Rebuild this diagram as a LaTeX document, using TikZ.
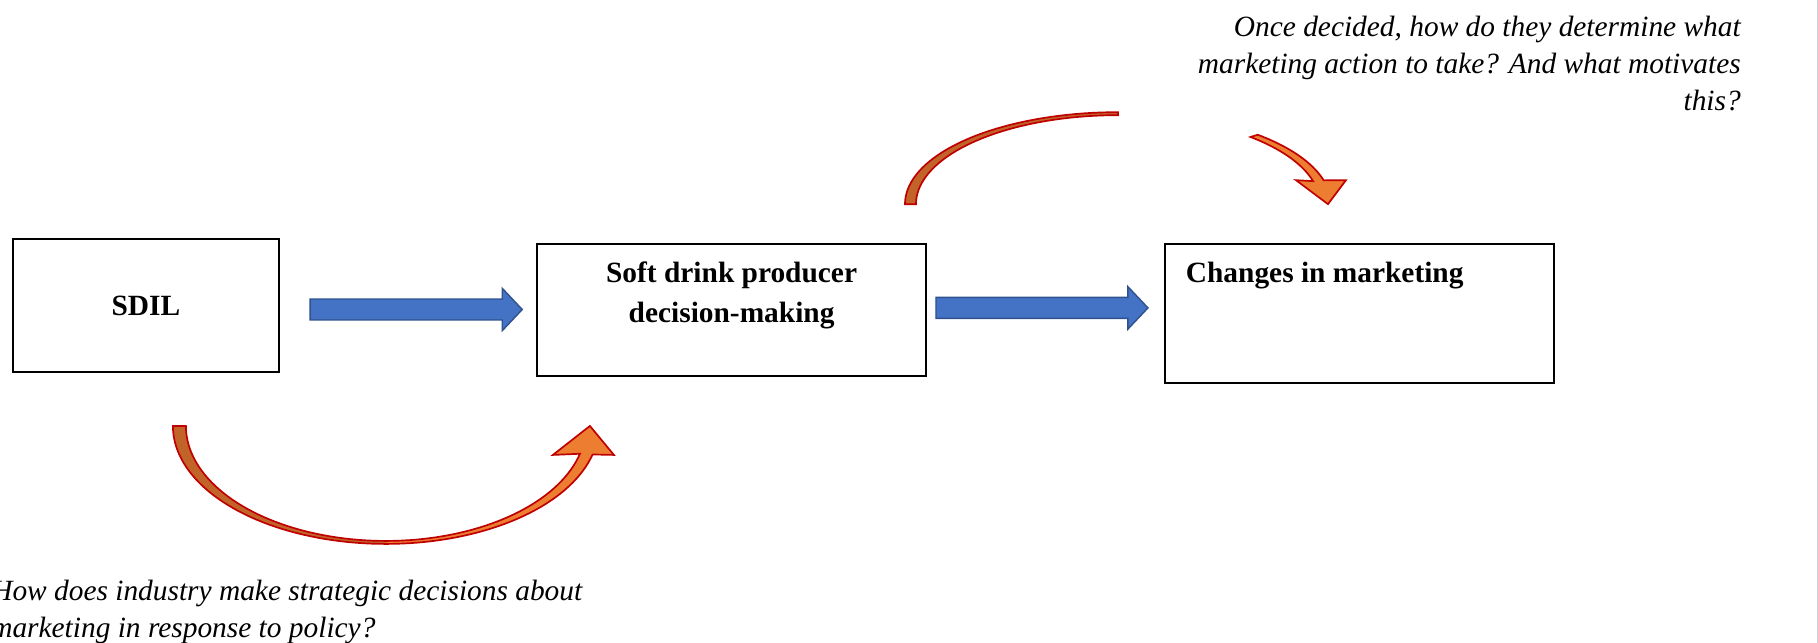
\documentclass[tikz,border=0pt]{standalone}
\usepackage{fontspec}
\setmainfont{Liberation Serif}
\usetikzlibrary{calc,positioning}
\definecolor{blueface}{HTML}{4472C4}
\definecolor{blueedge}{HTML}{2F528F}
\definecolor{orangeface}{HTML}{ED7D31}
\definecolor{orangeback}{HTML}{C2642A}
\definecolor{rededge}{HTML}{C00000}
\definecolor{pageedge}{HTML}{C9D0DA}

\begin{document}
\begin{tikzpicture}[
  x=0.025cm, y=-0.025cm,
  box/.style={draw,line width=1.3pt,minimum width=6.66cm,minimum height=3.31cm,
    inner sep=0pt,font=\fontsize{20.9}{22}\selectfont\bfseries},
  boxtext/.style={inner sep=0pt,align=center,
    font=\fontsize{20.9}{28.4}\selectfont\bfseries},
  question/.style={inner sep=0pt,font=\fontsize{20.9}{26.3}\selectfont\itshape},
  bluearr/.style={draw=blueedge,fill=blueface,line width=1pt,
    to path={let \p1=(\tikztostart), \p2=(\tikztotarget) in
      (\x1,\y1+0.262cm) -- (\x2-0.5cm,\y1+0.262cm) -- (\x2-0.5cm,\y1+0.53cm)
      -- (\x2,\y1) -- (\x2-0.5cm,\y1-0.53cm) -- (\x2-0.5cm,\y1-0.262cm)
      -- (\x1,\y1-0.262cm) -- cycle}},
  backface/.style={fill=orangeback},
  frontface/.style={fill=orangeface},
  curveline/.style={draw=rededge,line width=1.2pt,line join=miter}
]
\useasboundingbox (0,0) rectangle (1818,643);

% the three stages
\node[box] (sdil) at (145.9,305.5) {SDIL};
\node[box,minimum width=9.72cm,minimum height=3.29cm] (decide) at (731.6,309.9) {};
\node[box,minimum width=9.73cm,minimum height=3.47cm] (change) at (1359.5,313.4) {};
\node[boxtext,anchor=north] (decidetext) at ($(decide.north)+(0,18.5)$)
  {Soft drink producer\\decision-making};
\node[boxtext,anchor=base west] (changetext) at ($(change.west)+(21.7,-30.7)$)
  {Changes in marketing};

% straight block arrows
\draw[bluearr] ($(sdil.east)+(30,4)$) to ($(decide.west)+(-14,0)$);
\draw[bluearr] ($(decide.east)+(9,-2)$) to ($(change.west)+(-16,0)$);

% curved arrow below: SDIL -> decision-making
\coordinate (lowc) at ($(sdil.south)+(240,53.3)$);
\begin{scope}[shift={(lowc)}]
  \fill[backface] plot[domain=180:90,samples=40] ({213*cos(\x)},{118*sin(\x)})
    -- plot[domain=90:180,samples=40] ({200*cos(\x)},{115*sin(\x)}) -- cycle;
  \fill[frontface] plot[domain=90:14,samples=40] ({213*cos(\x)},{118*sin(\x)})
    -- (228,29) -- (204,0) -- (167,29)
    -- plot[domain=14:90,samples=40] ({200*cos(\x)},{115*sin(\x)}) -- cycle;
  \draw[curveline] plot[domain=180:14,samples=80] ({213*cos(\x)},{118*sin(\x)})
    -- (228,29) -- (204,0) -- (167,29)
    -- plot[domain=14:180,samples=80] ({200*cos(\x)},{115*sin(\x)}) -- cycle;
\end{scope}

% curved arrow above: decision-making -> changes
\coordinate (upc) at ($(decide.north east)+(191,-39)$);
\begin{scope}[shift={(upc)}]
  \filldraw[backface,curveline] plot[domain=180:270,samples=40] ({213*cos(\x)},{92*sin(\x)})
    -- plot[domain=270:180,samples=40] ({202*cos(\x)},{89*sin(\x)}) -- cycle;
  \filldraw[frontface,curveline] plot[domain=311:345,samples=20] ({213*cos(\x)},{92*sin(\x)})
    -- (228,-24) -- (210,0) -- (178,-24)
    -- plot[domain=345:311,samples=20] ({202*cos(\x)},{89*sin(\x)}) -- cycle;
\end{scope}

% research questions
\node[question,align=right,anchor=north east] (q2) at (1741,16)
  {Once decided, how do they determine what\\
   marketing action to take? And what motivates\\
   this?};
\node[question,align=left,anchor=north west] (q1) at (-9,580)
  {How does industry make strategic decisions about\\
   marketing in response to policy?};

\draw[pageedge,line width=0.6pt] (1817,0) -- (1817,643);
\end{tikzpicture}
\end{document}
